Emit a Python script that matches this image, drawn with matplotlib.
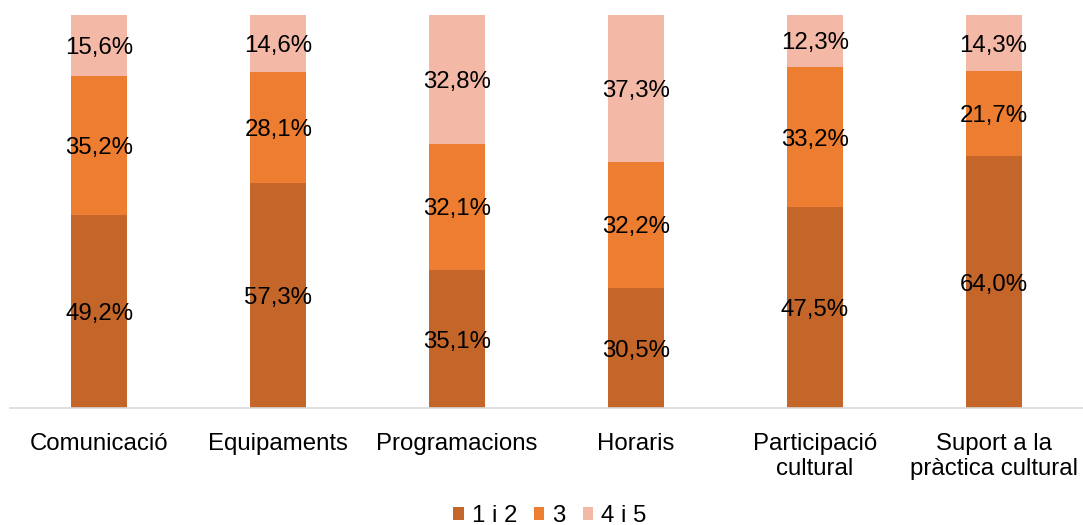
import matplotlib
matplotlib.use("Agg")
import matplotlib.pyplot as plt
import numpy as np

plt.rcParams['font.family'] = ['Liberation Sans', 'DejaVu Sans']

categories = ["Comunicació", "Equipaments", "Programacions", "Horaris",
              "Participació\ncultural", "Suport a la\npràctica cultural"]
series_names = ["1 i 2", "3", "4 i 5"]
v12 = [49.2, 57.3, 35.1, 30.5, 47.5, 64.0]
v3 = [35.2, 28.1, 32.1, 32.2, 33.2, 21.7]
v45 = [15.6, 14.6, 32.8, 37.3, 12.3, 14.3]
colors = ["#C4652A", "#ED7D31", "#F4B9A6"]

fig = plt.figure(figsize=(10.83, 5.25), dpi=100)
ax = fig.add_axes([10/1083, 1-408/525, 1-10/1083, (408-15)/525])

x = np.arange(len(categories))
width = 0.313
data = np.array([v12, v3, v45])
totals = data.sum(axis=0)
shares = data / totals * 100
bottom = np.zeros(len(categories))
handles = []
for name, vals, sh, c in zip(series_names, data, shares, colors):
    b = ax.bar(x, sh, width, bottom=bottom, color=c, label=name)
    handles.append(b)
    for xi, v, s, bt in zip(x, vals, sh, bottom):
        ax.text(xi, bt + s/2, f"{v:.1f}%".replace('.', ','), ha='center',
                va='center_baseline', fontsize=17.3, color='black')
    bottom = bottom + sh

ax.set_xlim(-0.5, len(categories)-0.5)
ax.set_ylim(0, 100)
ax.set_yticks([])
for s in ['top', 'right', 'left']:
    ax.spines[s].set_visible(False)
ax.spines['bottom'].set_color('#D9D9D9')
ax.spines['bottom'].set_linewidth(1.2)
ax.set_xticks(x)
ax.set_xticklabels(categories, fontsize=17.3, linespacing=1.15)
ax.tick_params(axis='x', length=0, pad=18)

fig.legend(handles=handles, labels=series_names, loc='center', bbox_to_anchor=(550/1083, 1-516/525),
           ncol=3, frameon=False, fontsize=17.3, handlelength=0.42, handleheight=0.42,
           handletextpad=0.35, columnspacing=0.7, borderpad=0)

fig.savefig("out.png", dpi=100)
